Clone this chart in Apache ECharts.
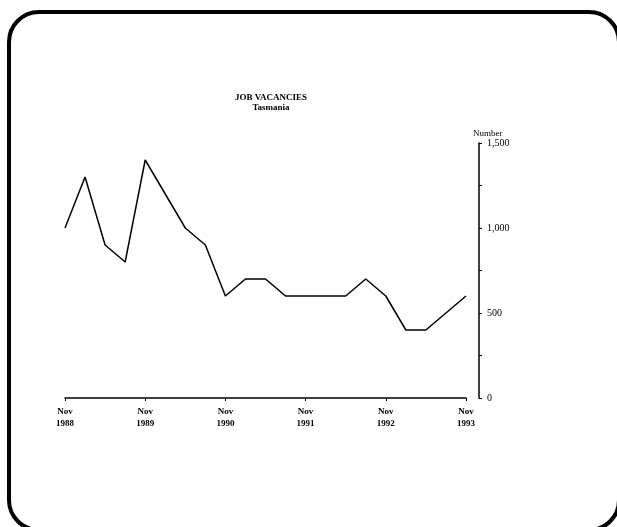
<!DOCTYPE html>
<html><head><meta charset="utf-8">
<script src="https://cdn.jsdelivr.net/npm/echarts@6/dist/echarts.min.js"></script>
<style>html,body{margin:0;padding:0;background:#fff}#c{width:617px;height:527px}</style>
</head><body><div id="c"></div>
<script>
const quarters = ["Nov 1988","Feb 1989","May 1989","Aug 1989","Nov 1989","Feb 1990","May 1990","Aug 1990","Nov 1990","Feb 1991","May 1991","Aug 1991","Nov 1991","Feb 1992","May 1992","Aug 1992","Nov 1992","Feb 1993","May 1993","Aug 1993","Nov 1993"];
const vacancies = [1000,1300,900,800,1400,1200,1000,900,600,700,700,600,600,600,600,700,600,400,400,500,600];
const titleText = "JOB VACANCIES";
const subtitleText = "Tasmania";
const yAxisName = "Number";

const FONT = "Liberation Serif";
const chart = echarts.init(document.getElementById('c'), null, {renderer:'canvas'});
chart.setOption({
  animation:false,
  backgroundColor:'#fff',
  title:{
    text:titleText, subtext:subtitleText, left:266, top:88, textAlign:'center', itemGap:1,
    textStyle:{fontFamily:FONT,fontSize:9,fontWeight:'bold',color:'#000'},
    subtextStyle:{fontFamily:FONT,fontSize:9,fontWeight:'bold',color:'#000'}
  },
  graphic:[{type:'rect',shape:{x:9,y:12,width:610,height:518,r:30},style:{fill:'none',stroke:'#000',lineWidth:4}}],
  grid:{left:65,right:151,top:143,bottom:129},
  xAxis:{
    type:'category', data:quarters, boundaryGap:false, offset:2,
    axisLine:{lineStyle:{color:'#000',width:1.5}},
    axisTick:{interval:3,length:3,inside:false,lineStyle:{color:'#000'}},
    axisLabel:{interval:3,color:'#000',fontFamily:FONT,fontSize:9,fontWeight:'bold',lineHeight:12,margin:6,
      formatter:v=>v.replace(' ','\n')},
    splitLine:{show:false}
  },
  yAxis:{
    type:'value', position:'right', offset:13, min:0, max:1500, interval:500,
    name:yAxisName, nameLocation:'end', nameGap:4,
    nameTextStyle:{fontFamily:FONT,fontSize:9,color:'#000',align:'left',padding:[0,0,0,-6]},
    axisLine:{show:true,lineStyle:{color:'#000',width:1.5}},
    axisTick:{show:true,length:3,lineStyle:{color:'#000'}},
    minorTick:{show:true,splitNumber:2,length:3,lineStyle:{color:'#000'}},
    axisLabel:{color:'#000',fontFamily:FONT,fontSize:10,margin:8,
      formatter:v=>v.toLocaleString('en-US')},
    splitLine:{show:false}
  },
  series:[{type:'line',data:vacancies,symbol:'none',lineStyle:{color:'#000',width:1.5}}]
});
</script></body></html>
